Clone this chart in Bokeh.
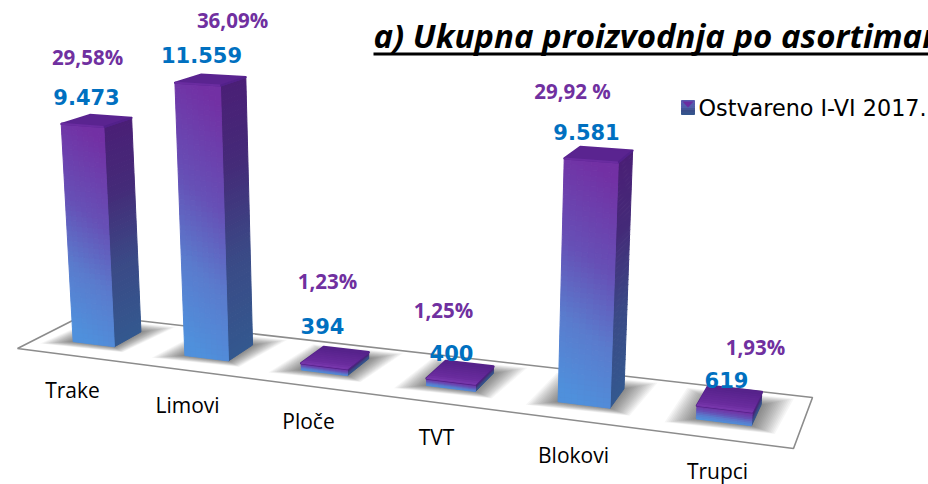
import numpy as np
from bokeh.plotting import figure
from bokeh.core.properties import value
from bokeh.embed import file_html
from bokeh.resources import INLINE

categories = ["Trake", "Limovi", "Ploče", "TVT", "Blokovi", "Trupci"]
values = [9473, 11559, 394, 400, 9581, 619]
value_labels = ["9.473", "11.559", "394", "400", "9.581", "619"]
percent_labels = ["29,58%", "36,09%", "1,23%", "1,25%", "29,92 %", "1,93%"]
series_name = "Ostvareno I-VI 2017."
title_text = "a) Ukupna proizvodnja po asortimanu"

# layout (page pixel positions of labels)
CAT_POS = [(72, 389), (187, 404), (308, 420), (436, 436), (573, 454), (717, 470)]
VAL_POS = [(86, 96), (201, 54), (322, 325), (451, 352), (586, 131), (726, 379)]
PCT_POS = [(87, 56), (232, 19), (327, 280), (443, 309), (572, 90), (755, 346)]
# layout (position of each bar along the floor, 0..1)
U_CENTRES = [0.089, 0.2635, 0.432, 0.5995, 0.762, 0.9195]

p = figure(width=928, height=484, x_range=(0, 928), y_range=(484, 0),
           output_backend="svg", toolbar_location=None, min_border=0,
           x_axis_type=None, y_axis_type=None, outline_line_color=None,
           background_fill_color="white", border_fill_color="white")
p.grid.visible = False

# floor plane: homography from unit square to the picture
FLOOR = dict(p00=(17, 348), p10=(793, 448), p11=(812, 397), p01=(84, 314))


def homography(c):
    (x0, y0), (x1, y1), (x2, y2), (x3, y3) = c["p00"], c["p10"], c["p11"], c["p01"]
    dx1, dx2, sx = x1 - x2, x3 - x2, x0 - x1 + x2 - x3
    dy1, dy2, sy = y1 - y2, y3 - y2, y0 - y1 + y2 - y3
    den = dx1 * dy2 - dx2 * dy1
    g = (sx * dy2 - dx2 * sy) / den
    h = (dx1 * sy - sx * dy1) / den
    a, b = x1 - x0 + g * x1, x3 - x0 + h * x3
    d, e = y1 - y0 + g * y1, y3 - y0 + h * y3

    def f(u, v):
        w = 1 + g * u + h * v
        return np.array([(a * u + b * v + x0) / w, (d * u + e * v + y0) / w])
    return f


H = homography(FLOOR)


def raised(pt, val):
    """Lift a floor point by a value: the verticals lean to a vanishing point."""
    x, y = pt
    k = 0.0233 + (y - 341) * 0.00004
    rise = max(k * val - 3, 6)
    return np.array([x + (x - 405) * 0.000165 * rise, y - rise])


def mix(stops, t):
    t = min(max(t, 0), 1)
    pos = [s[0] for s in stops]
    rgb = [np.interp(t, pos, [int(s[1][i:i + 2], 16) for s in stops]) for i in (1, 3, 5)]
    return "#%02x%02x%02x" % tuple(int(round(c)) for c in rgb)


FRONT = [(0, "#4f90dc"), (0.3, "#5a7bcd"), (0.6, "#6650b6"), (1, "#7230a4")]
SIDE = [(0, "#33588f"), (0.35, "#3a4a86"), (0.7, "#442a78"), (1, "#4a1f76")]
TOP_SMALL = [(0, "#7a38ae"), (0.25, "#6a2c9e"), (1, "#55228a")]


def face(b0, b1, t0, t1, stops, rows, cols, skew):
    xs, ys, cs = [], [], []
    for r in range(rows):
        for c in range(cols):
            r0, r1 = r / rows, (r + 1) / rows
            c0, c1 = c / cols, (c + 1) / cols
            pts = []
            for (rr, cc) in ((r0, c0), (r0, c1), (r1, c1), (r1, c0)):
                bot = b0 + (b1 - b0) * cc
                top = t0 + (t1 - t0) * cc
                pts.append(bot + (top - bot) * rr)
            xs.append([q[0] for q in pts])
            ys.append([q[1] for q in pts])
            cs.append(mix(stops, (r + .5) / rows + skew * ((c + .5) / cols - .5)))
    p.patches(xs, ys, fill_color=cs, line_color=cs, line_width=1)


# floor
fx = [FLOOR[k][0] for k in ("p00", "p10", "p11", "p01")]
fy = [FLOOR[k][1] for k in ("p00", "p10", "p11", "p01")]
p.patch(fx, fy, fill_color="white", line_color="#8c8c8c", line_width=1.6)

V_F, V_B = 0.31, 0.73

for i, val in enumerate(values):
    uc = U_CENTRES[i]
    uw = 0.0335 - 0.004 * uc
    fl = H(uc - uw, V_F)
    fr = H(uc + uw, V_F)
    br = H(uc + uw, V_B)
    bl = H(uc - uw, V_B)
    # soft shadow on the floor
    cen = (fl + fr + br + bl) / 4 + np.array([-1, 2])
    for s in np.linspace(2.0, 1.05, 16):
        sx = [cen[0] + (q[0] - cen[0]) * s for q in (fl, fr, br, bl)]
        sy = [cen[1] + (q[1] - cen[1]) * (1 + (s - 1) * .7) for q in (fl, fr, br, bl)]
        p.patch(sx, sy, fill_color="black", fill_alpha=0.034, line_color=None)

    tfl, tfr, tbr, tbl = raised(fl, val), raised(fr, val), raised(br, val), raised(bl, val)
    rise = fl[1] - tfl[1]
    rows = max(8, int(rise / 5))
    face(fr, br, tfr, tbr, SIDE, rows, 1, 0)
    face(fl, fr, tfl, tfr, FRONT, rows, 8, 0.14)
    # top face
    if val > 2000:
        top_col = "#5a2490"
        p.patch([q[0] for q in (tfl, tfr, tbr, tbl)], [q[1] for q in (tfl, tfr, tbr, tbl)],
                fill_color=top_col, line_color=top_col, line_width=2, line_join="round")
        p.line([tfl[0], tfr[0]], [tfl[1], tfr[1]], line_color="#6a2ca0", line_width=2)
        p.line([tfr[0], tbr[0]], [tfr[1], tbr[1]], line_color="#52218a", line_width=2)
    else:
        p.patch([q[0] for q in (tfl, tfr, tbr, tbl)], [q[1] for q in (tfl, tfr, tbr, tbl)],
                fill_color="#55228a", line_color="#55228a", line_width=2.5, line_join="round")
        face(tfl, tfr, tbl, tbr, TOP_SMALL, 10, 1, 0)

# texts
p.text([q[0] for q in CAT_POS], [q[1] for q in CAT_POS], text=categories,
       text_font=value("Open Sans"), text_font_size="21px", text_color="#000000",
       text_align="center", text_baseline="middle")
p.text([q[0] for q in VAL_POS], [q[1] for q in VAL_POS], text=value_labels,
       text_font=value("DejaVu Sans"), text_font_style="bold", text_font_size="21px",
       text_color="#0070c0", text_align="center", text_baseline="middle")
p.text([q[0] for q in PCT_POS], [q[1] for q in PCT_POS], text=percent_labels,
       text_font=value("Open Sans"), text_font_style="bold", text_font_size="20.5px",
       text_color="#7030a0", text_align="center", text_baseline="middle")

# title
p.text([373], [34.5], text=[title_text], text_font=value("Open Sans"),
       text_font_style="bold italic", text_font_size="33px", text_color="#000000",
       text_align="left", text_baseline="middle")
p.line([373, 928], [53.5, 53.5], line_color="#000000", line_width=3)

# legend
lb0, lb1 = np.array([681.0, 114.0]), np.array([694.0, 114.0])
lt0, lt1 = np.array([681.0, 100.0]), np.array([694.0, 100.0])
face(lb0, lb1, lt0, lt1, SIDE[:2] + [(0.5, "#4f5fa8"), (1, "#5a5ab0")], 8, 1, 0)
p.patch([682, 693, 687.5], [101, 101, 107], fill_color="#6a2ca0", line_color=None)
p.text([698], [107], text=[series_name], text_font=value("DejaVu Sans"),
       text_font_size="22.3px", text_color="#000000", text_align="left", text_baseline="middle")

open("out.html", "w").write(file_html(p, INLINE))
